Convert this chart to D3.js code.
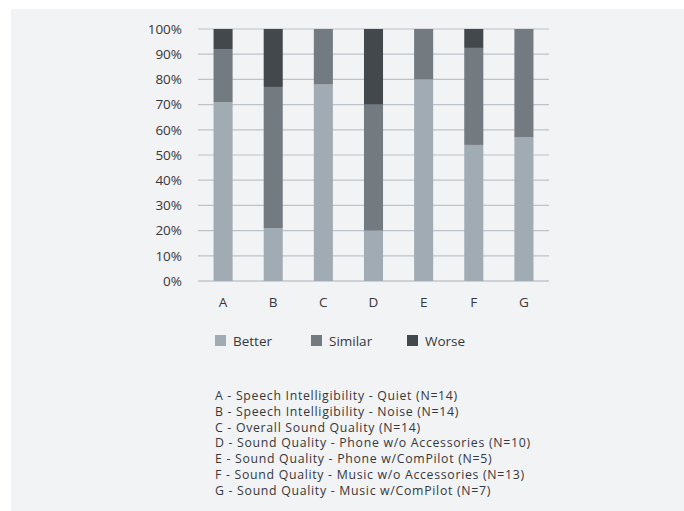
<!DOCTYPE html>
<html><head><meta charset="utf-8">
<script src="https://cdn.jsdelivr.net/npm/d3@7"></script>
<style>body{margin:0;background:#fff}svg{display:block}text{font-family:"Open Sans",sans-serif;fill:#35383b}</style>
</head><body><svg id="c" width="684" height="511"></svg>
<script>
const categories = ["A","B","C","D","E","F","G"];
const better  = [71, 21, 78, 20, 80, 54, 57];
const similar = [21, 56, 22, 50, 20, 38.5, 43];
const worse   = [8, 23, 0, 30, 0, 7.5, 0];
const seriesNames = ["Better","Similar","Worse"];
const yTicks = [0,10,20,30,40,50,60,70,80,90,100];
const notes = [
 "A - Speech Intelligibility - Quiet (N=14)",
 "B - Speech Intelligibility - Noise (N=14)",
 "C - Overall Sound Quality (N=14)",
 "D - Sound Quality - Phone w/o Accessories (N=10)",
 "E - Sound Quality - Phone w/ComPilot (N=5)",
 "F - Sound Quality - Music w/o Accessories (N=13)",
 "G - Sound Quality - Music w/ComPilot (N=7)"
];
const colors = ["#a1abb3","#737a80","#43484c"];

const svg = d3.select("#c");
svg.append("rect").attr("x",11).attr("y",9).attr("width",673).attr("height",502).attr("fill","#f2f3f5");

const x = d3.scaleBand().domain(categories).range([198,549]).paddingInner(0.62).paddingOuter(0.31);
const y = d3.scaleLinear().domain([0,100]).range([281,29]);

const g = svg.append("g");
g.selectAll("line.grid").data(yTicks).join("line")
 .attr("x1",198).attr("x2",549).attr("y1",d=>y(d)).attr("y2",d=>y(d))
 .attr("stroke",d=>d===0?"#a9b1b8":"#bcc3ca").attr("stroke-width",1.2);
g.selectAll("text.yt").data(yTicks).join("text")
 .attr("x",182).attr("y",d=>y(d)).attr("dy","0.35em").attr("text-anchor","end")
 .attr("font-size",13.5).text(d=>d+"%");

const rows = categories.map((c,i)=>({cat:c, Better:better[i], Similar:similar[i], Worse:worse[i]}));
const stack = d3.stack().keys(seriesNames)(rows);
stack.forEach((s,si)=>{
  g.selectAll(null).data(s).join("rect")
   .attr("x",d=>x(d.data.cat)).attr("width",x.bandwidth())
   .attr("y",d=>y(d[1])).attr("height",d=>y(d[0])-y(d[1]))
   .attr("fill",colors[si]);
});

g.selectAll("text.xt").data(categories).join("text")
 .attr("x",d=>x(d)+x.bandwidth()/2).attr("y",302).attr("dy","0.35em")
 .attr("text-anchor","middle").attr("font-size",13.5).text(d=>d);

const legX = [215,311,407];
const lg = svg.append("g");
seriesNames.forEach((n,i)=>{
  lg.append("rect").attr("x",legX[i]).attr("y",335).attr("width",11).attr("height",11).attr("fill",colors[i]);
  lg.append("text").attr("x",legX[i]+18).attr("y",341).attr("dy","0.35em").attr("font-size",13.5).text(n);
});

svg.append("g").selectAll("text").data(notes).join("text")
 .attr("x",215).attr("y",(d,i)=>396+i*15.7).attr("dy","0.35em")
 .attr("font-size",12.3).attr("letter-spacing","0.7px").text(d=>d);
</script></body></html>
